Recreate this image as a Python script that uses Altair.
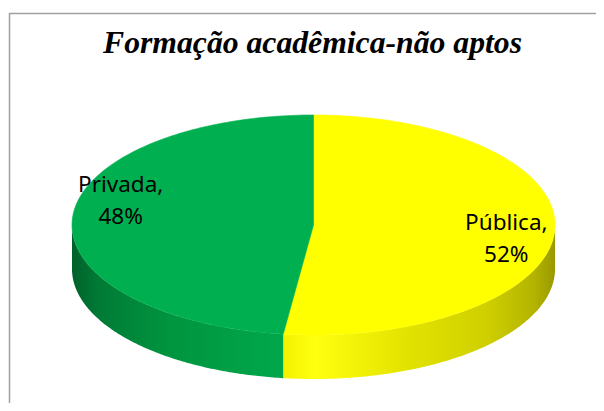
import altair as alt
import numpy as np
import pandas as pd

# ---------------- data ----------------
categorias = ["Pública", "Privada"]
valores = [52, 48]
rotulos = ["Pública,", "Privada,"]
titulo = "Formação acadêmica-não aptos"

# ---------------- style / geometry ----------------
W, H = 588, 395                     # plot area (page pixels 8..596, 8..403)
CX, CY, RX, RY, DEPTH = 313.5, 225.0, 241.5, 110.0, 44.0
N = 140
cores_topo = {"Pública": "#FFFF00", "Privada": "#00B050"}
grad_parede = {
    "Pública": [(0.0, "#F2F200"), (0.12, "#FFFF10"), (0.45, "#E3E300"),
                (0.75, "#CFCF00"), (0.92, "#B4B400"), (1.0, "#999900")],
    "Privada": [(0.0, "#00602A"), (0.12, "#007A35"), (0.45, "#00943F"),
                (1.0, "#00A84B")],
}
LABEL_K, LABEL_TILT, LABEL_DY = 0.8, 13.5, -14.0

xs = alt.Scale(domain=[8, 8 + W], nice=False, zero=False)
ys = alt.Scale(domain=[8, 8 + H], nice=False, zero=False, reverse=True)

total = float(sum(valores))
fracs = np.array(valores, dtype=float) / total
ends = np.cumsum(fracs)
starts = ends - fracs


def ang(f):
    return np.deg2rad(90.0 - 360.0 * f)


top_rows, wall_rows, lab_rows = [], [], []
for c, r, v, s, e in zip(categorias, rotulos, valores, starts, ends):
    a0, a1 = ang(s), ang(e)
    t = np.linspace(a0, a1, N)
    pts = [(CX, CY)] + [(CX + RX * np.cos(q), CY - RY * np.sin(q)) for q in t] + [(CX, CY)]
    for i, (x, y) in enumerate(pts):
        top_rows.append(dict(cat=c, i=i, x=x, y=y))
    hi, lo = min(a0, 0.0), max(a1, -np.pi)
    if hi > lo:
        tw = np.linspace(hi, lo, N)
        upper = [(CX + RX * np.cos(q), CY - RY * np.sin(q)) for q in tw]
        lower = [(x, y + DEPTH) for x, y in upper[::-1]]
        poly = upper + lower + [upper[0]]
        for i, (x, y) in enumerate(poly):
            wall_rows.append(dict(cat=c, i=i, x=x, y=y))
    m = (a0 + a1) / 2.0
    lx = CX + LABEL_K * RX * np.cos(m)
    ly = CY - LABEL_K * RY * np.sin(m) + LABEL_TILT * np.cos(m) + LABEL_DY
    lab_rows.append(dict(cat=c, txt=f"{r}\n{v}%", x=lx, y=ly))

top_df = pd.DataFrame(top_rows)
wall_df = pd.DataFrame(wall_rows)
lab_df = pd.DataFrame(lab_rows)

enc = dict(
    x=alt.X("x:Q", scale=xs, axis=None),
    y=alt.Y("y:Q", scale=ys, axis=None),
    order=alt.Order("i:Q"),
)

layers = []
for c in categorias:
    g = alt.Gradient(
        gradient="linear", x1=0, y1=0, x2=1, y2=0,
        stops=[alt.GradientStop(offset=o, color=col) for o, col in grad_parede[c]],
    )
    layers.append(
        alt.Chart(wall_df).transform_filter(alt.datum.cat == c)
        .mark_line(fill=g, strokeWidth=0, interpolate="linear")
        .encode(**enc)
    )
for c in categorias:
    layers.append(
        alt.Chart(top_df).transform_filter(alt.datum.cat == c)
        .mark_line(fill=cores_topo[c], stroke=cores_topo[c], strokeWidth=0.6,
                   interpolate="linear")
        .encode(**enc)
    )

labels = alt.Chart(lab_df).mark_text(
    lineBreak="\n", lineHeight=32, font="Noto Sans", fontSize=22.5,
    align="center", baseline="alphabetic", color="#000000",
).encode(
    x=alt.X("x:Q", scale=xs, axis=None),
    y=alt.Y("y:Q", scale=ys, axis=None),
    text="txt:N",
)

title = alt.Chart(pd.DataFrame({"t": [titulo]})).mark_text(
    font="Liberation Serif", fontSize=31.7, fontWeight="bold", fontStyle="italic",
    align="center", baseline="alphabetic", color="#000000",
).encode(x=alt.value(304.5), y=alt.value(45), text="t:N")

border_l = alt.Chart(pd.DataFrame({"a": [0]})).mark_rule(
    color="#A0A0A0", strokeWidth=1.5
).encode(x=alt.value(1.5), y=alt.value(5), y2=alt.value(H + 10))
border_t = alt.Chart(pd.DataFrame({"a": [0]})).mark_rule(
    color="#A0A0A0", strokeWidth=1.5
).encode(x=alt.value(1), x2=alt.value(W + 10), y=alt.value(5.5))

chart = alt.layer(*layers, labels, title, border_l, border_t).properties(
    width=W, height=H,
    autosize=alt.AutoSizeParams(type="none"),
    padding=0,
    background="white",
).configure_view(stroke=None)

chart.save("out.html", embed_options={"renderer": "svg", "actions": False})
